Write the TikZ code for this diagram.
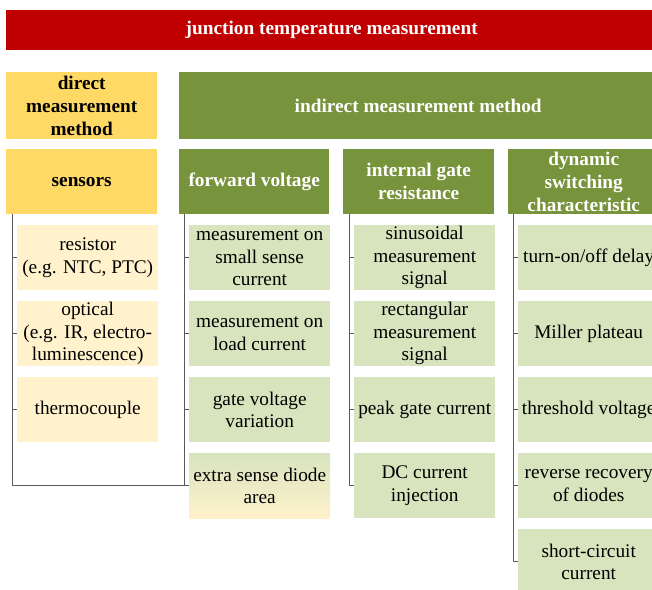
\documentclass[tikz,border=0pt]{standalone}
\usepackage{fontspec}
\setmainfont{LiberationSerif}[Extension=.ttf, UprightFont=*-Regular, BoldFont=*-Bold, ItalicFont=*-Italic, BoldItalicFont=*-BoldItalic]
\definecolor{headred}{HTML}{C00000}
\definecolor{headyellow}{HTML}{FFD966}
\definecolor{headgreen}{HTML}{77933C}
\definecolor{leafyellow}{HTML}{FFF2CC}
\definecolor{leafgreen}{HTML}{D7E4BD}
\begin{document}
\begin{tikzpicture}[x=1pt, y=-1pt, line join=round,
	font=\fontsize{19.3}{22.5}\selectfont,
	box/.style={anchor=north west, inner sep=0pt, align=center, minimum height=65pt},
	head/.style={box, font=\fontsize{19.3}{22.8}\selectfont\bfseries},
	leaf/.style={box, minimum width=141pt},
	bar/.style={draw=black!65, line width=0.9pt}]
	\useasboundingbox (0,0) rectangle (652,589);
	\clip (0,0) rectangle (652,589);
	% top levels
	\node[head, fill=headred, text=white, minimum width=651pt, minimum height=40pt] (jtm) at (6,10) {junction temperature measurement};
	\node[head, fill=headyellow, minimum width=151pt, minimum height=67pt] (direct) at (6,72) {direct\\measurement\\method};
	\node[head, fill=headgreen, text=white, minimum width=478pt, minimum height=67pt] (indirect) at (179,72) {indirect measurement method};
	% groups
	\foreach \n/\x/\w/\f/\c/\t in {sens/6/151/headyellow/black/sensors,
		fv/179/150/headgreen/white/forward voltage,
		igr/343/151/headgreen/white/{internal gate\\resistance},
		dsc/508/151/headgreen/white/{dynamic\\switching\\characteristic}}
	\node[head, fill=\f, text=\c, minimum width=\w pt] (\n) at (\x,149) {\t};
	% methods
	\foreach \t [count=\i] in {{resistor\\(e.g. NTC, PTC)}, {optical\\(e.g. IR, electro-\\luminescence)}, thermocouple}
	\node[leaf, fill=leafyellow] (sens\i) at (17,{225+76*(\i-1)}) {\t};
	\foreach \t [count=\i] in {{measurement on\\small sense\\current}, {measurement on\\load current}, {gate voltage\\variation}}
	\node[leaf, fill=leafgreen] (fv\i) at (189,{225+76*(\i-1)}) {\t};
	\node[leaf, top color=leafgreen, bottom color=leafyellow] (fv4) at (189,453) {extra sense diode\\area};
	\foreach \t [count=\i] in {{sinusoidal\\measurement\\signal}, {rectangular\\measurement\\signal}, peak gate current, {DC current\\injection}}
	\node[leaf, fill=leafgreen] (igr\i) at (354,{225+76*(\i-1)}) {\t};
	\foreach \t [count=\i] in {turn-on/off delay, Miller plateau, threshold voltage, {reverse recovery\\of diodes}, {short-circuit\\current}}
	\node[leaf, fill=leafgreen] (dsc\i) at (518,{225+76*(\i-1)}) {\t};
	% brackets
	\foreach \g/\s/\e in {sens/6/fv4, fv/5/fv4, igr/6/igr4, dsc/5/dsc5}{
		\coordinate (\g bar) at ([xshift=\s pt]\g.south west);
		\draw[bar] (\g bar) |- (\e.west);
	}
	\foreach \g/\m in {sens/3, fv/3, igr/3, dsc/4}
	\foreach \i in {1,...,\m}\draw[bar] (\g bar |- \g\i.west) -- (\g\i.west);
\end{tikzpicture}
\end{document}
